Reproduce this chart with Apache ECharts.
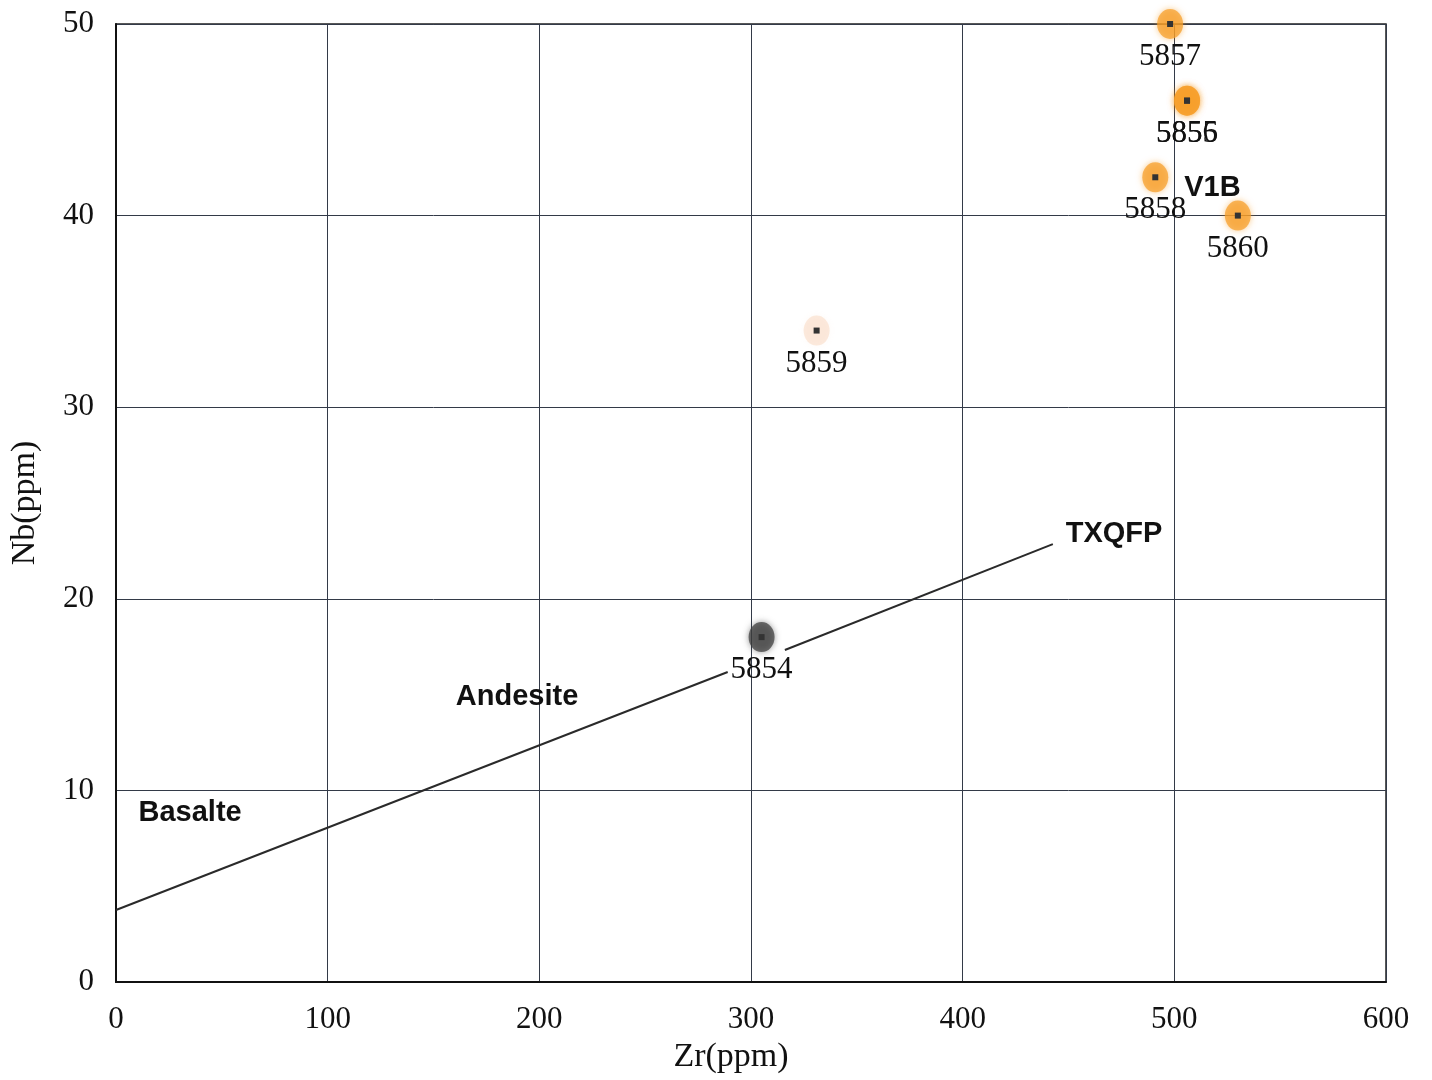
<!DOCTYPE html>
<html>
<head>
<meta charset="utf-8">
<script src="https://cdn.jsdelivr.net/npm/echarts@6/dist/echarts.min.js"></script>
<style>html,body{margin:0;padding:0;background:#fff}#c{width:1432px;height:1080px}</style>
</head>
<body>
<div id="c"></div>
<script>
// Samples: Zr (ppm), Nb (ppm)
const sampleNames = ['5857', '5855', '5856', '5858', '5860', '5859', '5854'];
const sampleZr = [498, 506, 506, 491, 530, 331, 305];
const sampleNb = [50, 46, 46, 42, 40, 34, 18];
const glowKind = ['orange', 'orange', 'orange', 'orange', 'orange', 'pale', 'dark'];
// Basalte / Andesite dividing line (two segments, gap at label 5854)
const lineSeg1 = [[0, 3.76], [289, 16.18]];
const lineSeg2 = [[316, 17.33], [442.6, 22.85]];
// Field labels
const fieldNames = ['V1B', 'TXQFP', 'Andesite', 'Basalte'];
const fieldZr = [518, 471.5, 189.5, 35];
const fieldNb = [41.45, 23.4, 14.85, 8.8];
const xTicks = [0, 100, 200, 300, 400, 500, 600];
const yTicks = [0, 10, 20, 30, 40, 50];

const glowColor = {
  orange: 'rgba(246,158,40,0.72)',
  pale: 'rgba(246,190,150,0.3)',
  dark: 'rgba(60,60,60,0.72)'
};

const chart = echarts.init(document.getElementById('c'));
const serif = '"Liberation Serif", "DejaVu Serif", serif';
const sans = '"Liberation Sans", Arial, sans-serif';

chart.setOption({
  animation: false,
  backgroundColor: '#fff',
  grid: {left: 116, top: 24, width: 1270, height: 958, show: true, borderColor: '#222', borderWidth: 1.5},
  xAxis: {
    type: 'value', min: xTicks[0], max: xTicks[xTicks.length - 1], interval: 100,
    name: 'Zr(ppm)', nameLocation: 'middle', nameGap: 56,
    nameTextStyle: {fontFamily: serif, fontSize: 34, color: '#111', padding: [0, 40, 0, 0]},
    axisLine: {show: true, lineStyle: {color: '#111', width: 2}},
    axisTick: {show: false},
    axisLabel: {fontFamily: serif, fontSize: 31, color: '#111', margin: 22},
    splitLine: {show: true, lineStyle: {color: '#333a48', width: 1}}
  },
  yAxis: {
    type: 'value', min: yTicks[0], max: yTicks[yTicks.length - 1], interval: 10,
    name: 'Nb(ppm)', nameLocation: 'middle', nameGap: 74,
    nameTextStyle: {fontFamily: serif, fontSize: 34, color: '#111'},
    axisLine: {show: true, lineStyle: {color: '#111', width: 2}},
    axisTick: {show: false},
    axisLabel: {fontFamily: serif, fontSize: 31, color: '#111', margin: 22},
    splitLine: {show: true, lineStyle: {color: '#333a48', width: 1}}
  },
  series: [
    {
      type: 'line', data: lineSeg1, symbol: 'none', silent: true,
      lineStyle: {color: '#2a2a2a', width: 2}
    },
    {
      type: 'line', data: lineSeg2, symbol: 'none', silent: true,
      lineStyle: {color: '#2a2a2a', width: 2}
    },
    {
      type: 'scatter', symbol: 'circle', symbolSize: [26, 30], silent: true,
      data: sampleZr.map((z, i) => ({
        value: [z, sampleNb[i]],
        itemStyle: {opacity: 1, color: glowColor[glowKind[i]], shadowBlur: 6, shadowColor: glowColor[glowKind[i]]}
      }))
    },
    {
      type: 'scatter', symbol: 'rect', symbolSize: 6, silent: true,
      itemStyle: {color: '#333', opacity: 1},
      data: sampleZr.map((z, i) => ({value: [z, sampleNb[i]], name: sampleNames[i]})),
      label: {
        show: true, position: 'inside', offset: [0, 33], opacity: 1,
        formatter: p => p.name,
        fontFamily: serif, fontSize: 31, color: '#111',
        textBorderWidth: 0, textBorderColor: 'transparent'
      }
    },
    {
      type: 'scatter', symbolSize: 0, silent: true,
      itemStyle: {opacity: 1},
      data: fieldZr.map((z, i) => ({value: [z, fieldNb[i]], name: fieldNames[i]})),
      label: {
        show: true, position: 'inside', formatter: p => p.name, opacity: 1,
        fontFamily: sans, fontWeight: 'bold', fontSize: 29, color: '#111',
        textBorderWidth: 0, textBorderColor: 'transparent'
      }
    }
  ]
});
</script>
</body>
</html>
